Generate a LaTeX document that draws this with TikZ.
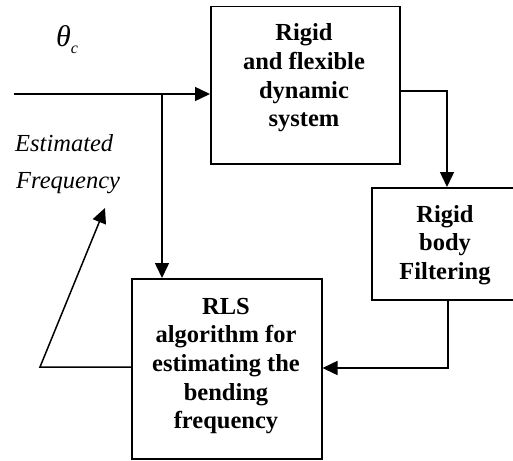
\documentclass[tikz,border=0pt]{standalone}
\usepackage{fontspec}
\setmainfont{Liberation Serif}
\usetikzlibrary{arrows.meta}
\begin{document}
\begin{tikzpicture}[x=1pt,y=-1pt,
  blk/.style={draw,line width=1.5pt,inner sep=0pt,anchor=north west},
  btxt/.style={align=center,font=\fontsize{24.5}{28.7}\selectfont\bfseries,inner sep=0pt},
  itxt/.style={font=\fontsize{24.5}{24.5}\selectfont\itshape,inner sep=0pt,anchor=base west},
  conn/.style={line width=1.5pt},
  arr/.style={conn,-{Triangle[length=15pt,width=14pt]}}]
\useasboundingbox (0,0) rectangle (513,460);
% boxes
\node[blk,minimum width=189pt,minimum height=157pt] (sys) at (210,6) {};
\node[blk,minimum width=142pt,minimum height=112pt] (filt) at (371,187) {};
\node[blk,minimum width=190pt,minimum height=180pt] (rls) at (131,278) {};
% box texts
\node[btxt] (systxt) at (304,78) {Rigid\\and flexible\\dynamic\\system};
\node[btxt] (filttxt) at (445,245) {Rigid\\body\\Filtering};
\node[btxt] (rlstxt) at (226,366) {RLS\\algorithm for\\estimating the\\bending\\frequency};
% labels
\node[inner sep=0pt,anchor=base west] (theta) at (56,46)
  {\fontsize{30}{30}\selectfont\itshape θ\raisebox{-7pt}{\fontsize{16}{16}\selectfont c}};
\node[itxt] (est) at (15,151) {Estimated};
\node[itxt] (freq) at (16,188) {Frequency};
% coordinates
\coordinate (in) at (14,94);
\coordinate (j) at (162,94);
\coordinate (c1) at (447,91);
\coordinate (c2) at (448,368);
\coordinate (c3) at (40,367);
\coordinate (tip) at (105,208);
% connectors
\draw[arr] (in) -- (sys.west |- in);
\draw[arr] (j) -- (j |- rls.north);
\draw[arr] (sys.east |- c1) -- (c1) -- (c1 |- filt.north);
\draw[arr] (c2 |- filt.south) -- (c2) -- (rls.east |- c2);
\draw[arr] (rls.west |- c3) -- (c3) -- (tip);
\end{tikzpicture}
\end{document}
